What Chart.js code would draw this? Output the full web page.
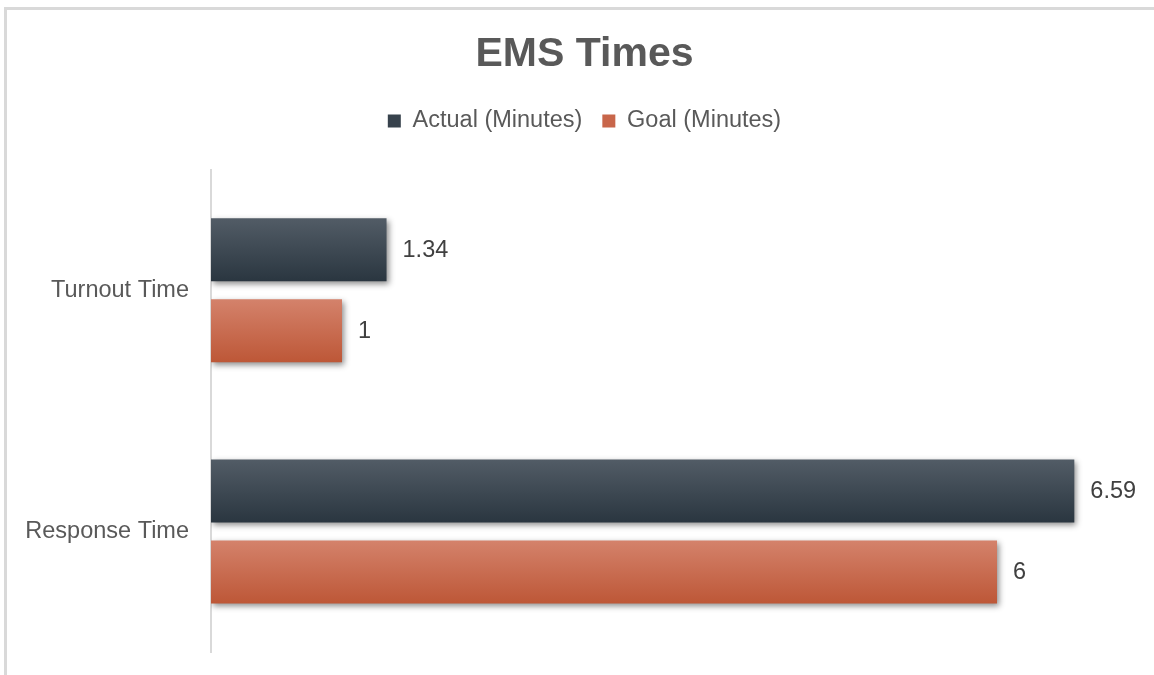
<!DOCTYPE html>
<html>
<head>
<meta charset="utf-8">
<title>EMS Times</title>
<script src="https://cdn.jsdelivr.net/npm/chart.js@4/dist/chart.umd.min.js"></script>
<style>
  html, body { margin: 0; padding: 0; background: #fff; }
  #wrap { position: relative; width: 1154px; height: 675px; overflow: hidden; }
  #frame {
    position: absolute; left: 4px; top: 7px; right: -10px; bottom: -10px;
    border-top: 3px solid #d9d9d9; border-left: 3px solid #d9d9d9;
  }
  #box { position: absolute; left: 0; top: 0; width: 1154px; height: 675px; }
</style>
</head>
<body>
<div id="wrap">
  <div id="frame"></div>
  <div id="box"><canvas id="chart"></canvas></div>
</div>
<script>
"use strict";

const categories = ["Turnout Time", "Response Time"];
const actualMinutes = [1.34, 6.59];
const goalMinutes = [1, 6];
const seriesNames = ["Actual (Minutes)", "Goal (Minutes)"];

const textColor = "#595959";
const fontFamily = "'Liberation Sans', Arial, sans-serif";
const catPct = 0.672;
const barPct = 0.778;

// vertical gradient per bar, worked out from the category scale
const barGradient = (top, bottom) => c => {
  const chart = c.chart;
  const area = chart.chartArea;
  const yScale = chart.scales.y;
  if (!area || !yScale) return bottom;
  const band = (area.bottom - area.top) / categories.length;
  const slot = (band * catPct) / 2;
  const h = slot * barPct;
  const mid = yScale.getPixelForValue(c.dataIndex) + (c.datasetIndex - 0.5) * slot;
  const g = chart.ctx.createLinearGradient(0, mid - h / 2, 0, mid + h / 2);
  g.addColorStop(0, top);
  g.addColorStop(1, bottom);
  return g;
};

const shadowPlugin = {
  id: "barShadow",
  beforeDatasetDraw(chart) {
    const ctx = chart.ctx;
    ctx.save();
    ctx.shadowColor = "rgba(0,0,0,0.45)";
    ctx.shadowBlur = 6;
    ctx.shadowOffsetX = 2;
    ctx.shadowOffsetY = 3;
  },
  afterDatasetDraw(chart) {
    chart.ctx.restore();
  }
};

const valueLabels = {
  id: "valueLabels",
  afterDatasetsDraw(chart) {
    const ctx = chart.ctx;
    ctx.save();
    ctx.font = "23.5px " + fontFamily;
    ctx.fillStyle = "#404040";
    ctx.textAlign = "left";
    ctx.textBaseline = "middle";
    chart.data.datasets.forEach((ds, i) => {
      chart.getDatasetMeta(i).data.forEach((bar, j) => {
        ctx.fillText(String(ds.data[j]), bar.x + 16, bar.y + 1);
      });
    });
    ctx.restore();
  }
};

const ctx = document.getElementById("chart").getContext("2d");

const emsChart = new Chart(ctx, {
  type: "bar",
  data: {
    labels: categories,
    datasets: [
      {
        label: seriesNames[0],
        data: actualMinutes,
        backgroundColor: barGradient("#525c66", "#2a3640"),
        categoryPercentage: catPct,
        barPercentage: barPct
      },
      {
        label: seriesNames[1],
        data: goalMinutes,
        backgroundColor: barGradient("#d4826b", "#bd5737"),
        categoryPercentage: catPct,
        barPercentage: barPct
      }
    ]
  },
  options: {
    indexAxis: "y",
    responsive: true,
    maintainAspectRatio: false,
    animation: false,
    layout: { padding: { top: 10, left: 20, right: 5, bottom: 23 } },
    plugins: {
      tooltip: { enabled: false },
      title: {
        display: true,
        text: "EMS Times",
        color: textColor,
        font: { family: fontFamily, size: 41, weight: "bold" },
        padding: { top: 20, bottom: 10 }
      },
      legend: {
        display: true,
        labels: {
          color: textColor,
          font: { family: fontFamily, size: 23.5 },
          boxWidth: 13,
          boxHeight: 13,
          padding: 20,
          generateLabels: chart =>
            chart.data.datasets.map((ds, i) => ({
              text: ds.label,
              fillStyle: i === 0 ? "#37424c" : "#c8664a",
              strokeStyle: "transparent",
              lineWidth: 0,
              fontColor: textColor,
              datasetIndex: i
            }))
        }
      }
    },
    scales: {
      x: {
        position: "top",
        min: 0,
        max: 7.16,
        grid: { display: false, drawTicks: false },
        border: { display: false },
        ticks: { display: false },
        afterFit: s => { s.height = 27; }
      },
      y: {
        grid: { display: false, drawTicks: false },
        border: { display: true, color: "#d9d9d9", width: 2 },
        ticks: {
          color: textColor,
          font: { family: fontFamily, size: 23.5 },
          padding: 22
        },
        afterFit: s => {
          s.width = 191;
          s.paddingTop = 0;
          s.paddingBottom = 0;
        }
      }
    }
  },
  plugins: [shadowPlugin, valueLabels]
});
</script>
</body>
</html>
